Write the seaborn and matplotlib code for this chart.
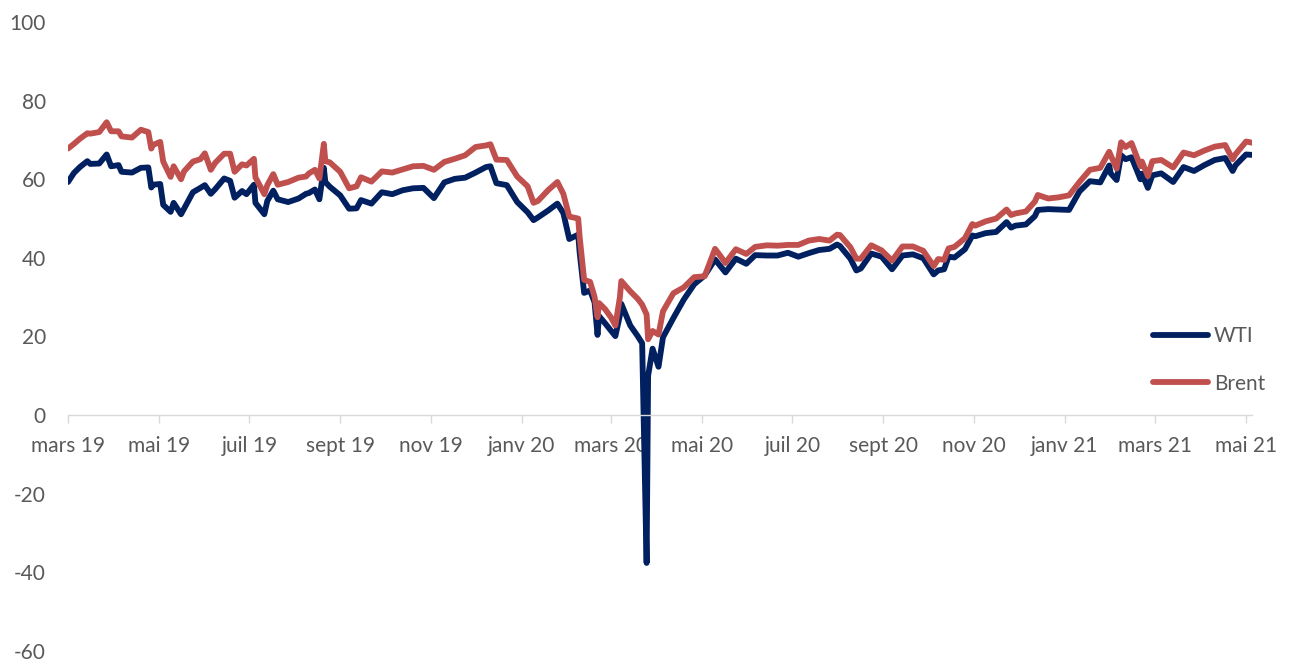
import matplotlib

matplotlib.use("Agg")

import matplotlib.pyplot as plt
from matplotlib.lines import Line2D
import pandas as pd
import seaborn as sns

# ── Data ──────────────────────────────────────────────────────────────────

DATES = [
    "2019-03-28", "2019-04-01", "2019-04-05", "2019-04-10", "2019-04-12", "2019-04-18",
    "2019-04-23", "2019-04-26", "2019-05-01", "2019-05-03", "2019-05-10", "2019-05-16",
    "2019-05-21", "2019-05-23", "2019-05-24", "2019-05-29", "2019-05-31", "2019-06-05",
    "2019-06-07", "2019-06-12", "2019-06-14", "2019-06-20", "2019-06-25", "2019-06-28",
    "2019-07-02", "2019-07-05", "2019-07-11", "2019-07-15", "2019-07-18", "2019-07-23",
    "2019-07-26", "2019-07-31", "2019-08-01", "2019-08-07", "2019-08-09", "2019-08-13",
    "2019-08-16", "2019-08-23", "2019-08-30", "2019-09-04", "2019-09-06", "2019-09-10",
    "2019-09-13", "2019-09-16", "2019-09-17", "2019-09-20", "2019-09-27", "2019-10-03",
    "2019-10-08", "2019-10-11", "2019-10-18", "2019-10-25", "2019-11-01", "2019-11-08",
    "2019-11-15", "2019-11-22", "2019-11-29", "2019-12-06", "2019-12-13", "2019-12-20",
    "2019-12-27", "2020-01-03", "2020-01-06", "2020-01-10", "2020-01-17", "2020-01-24",
    "2020-01-31", "2020-02-04", "2020-02-07", "2020-02-14", "2020-02-20", "2020-02-24",
    "2020-02-28", "2020-03-05", "2020-03-06", "2020-03-09", "2020-03-13", "2020-03-16",
    "2020-03-18", "2020-03-19", "2020-03-23", "2020-03-27", "2020-03-30", "2020-04-02",
    "2020-04-03", "2020-04-09", "2020-04-14", "2020-04-17", "2020-04-20", "2020-04-21",
    "2020-04-24", "2020-04-28", "2020-05-01", "2020-05-08", "2020-05-15", "2020-05-22",
    "2020-05-29", "2020-06-05", "2020-06-08", "2020-06-12", "2020-06-19", "2020-06-26",
    "2020-07-02", "2020-07-10", "2020-07-17", "2020-07-24", "2020-07-31", "2020-08-07",
    "2020-08-14", "2020-08-21", "2020-08-26", "2020-08-28", "2020-09-04", "2020-09-08",
    "2020-09-11", "2020-09-18", "2020-09-25", "2020-10-02", "2020-10-09", "2020-10-16",
    "2020-10-23", "2020-10-30", "2020-11-02", "2020-11-06", "2020-11-09", "2020-11-13",
    "2020-11-20", "2020-11-25", "2020-11-27", "2020-12-04", "2020-12-11", "2020-12-18",
    "2020-12-21", "2020-12-24", "2020-12-31", "2021-01-06", "2021-01-08", "2021-01-15",
    "2021-01-22", "2021-01-29", "2021-02-05", "2021-02-12", "2021-02-19", "2021-02-25",
    "2021-02-26", "2021-03-02", "2021-03-05", "2021-03-08", "2021-03-12", "2021-03-18",
    "2021-03-19", "2021-03-23", "2021-03-26", "2021-04-01", "2021-04-09", "2021-04-16",
    "2021-04-23", "2021-04-30", "2021-05-07", "2021-05-14", "2021-05-19", "2021-05-21",
    "2021-05-28", "2021-06-01",
]

WTI = [
    59.3, 61.6, 63.1, 64.6, 63.9, 64.0,
    66.3, 63.3, 63.6, 61.9, 61.7, 62.9,
    63.0, 57.9, 58.6, 58.8, 53.5, 51.7,
    54.0, 51.1, 52.5, 56.7, 57.8, 58.5,
    56.3, 57.5, 60.2, 59.6, 55.3, 57.0,
    56.2, 58.6, 54.0, 51.1, 54.5, 57.1,
    54.9, 54.2, 55.1, 56.3, 56.5, 57.4,
    54.9, 62.9, 59.3, 58.1, 55.9, 52.5,
    52.6, 54.7, 53.8, 56.7, 56.2, 57.2,
    57.7, 57.8, 55.2, 59.2, 60.1, 60.4,
    61.7, 63.1, 63.3, 59.0, 58.5, 54.2,
    51.6, 49.6, 50.3, 52.1, 53.8, 51.4,
    44.8, 45.9, 41.3, 31.1, 31.7, 28.7,
    20.4, 25.2, 23.4, 21.5, 20.1, 25.3,
    28.3, 22.8, 20.1, 18.3, -37.6, 10.0,
    16.9, 12.3, 19.8, 24.7, 29.4, 33.3,
    35.5, 39.6, 38.2, 36.3, 39.8, 38.5,
    40.7, 40.6, 40.6, 41.3, 40.3, 41.2,
    42.0, 42.3, 43.4, 43.0, 39.8, 36.8,
    37.3, 41.1, 40.3, 37.1, 40.6, 40.9,
    39.9, 35.8, 36.8, 37.1, 40.3, 40.1,
    42.2, 45.7, 45.5, 46.3, 46.6, 49.1,
    47.7, 48.2, 48.5, 50.6, 52.2, 52.4,
    52.3, 52.2, 56.9, 59.5, 59.2, 63.5,
    61.5, 59.8, 66.1, 65.1, 65.6, 60.0,
    61.4, 57.8, 61.0, 61.5, 59.3, 63.1,
    62.1, 63.6, 64.9, 65.4, 62.1, 63.6,
    66.3, 66.2,
]

BRENT = [
    67.8, 69.0, 70.3, 71.7, 71.6, 72.0,
    74.5, 72.2, 72.2, 70.9, 70.6, 72.6,
    72.0, 67.8, 68.7, 69.5, 64.5, 60.6,
    63.3, 60.0, 62.0, 64.5, 65.1, 66.6,
    62.4, 64.2, 66.5, 66.5, 61.9, 63.8,
    63.5, 65.2, 60.5, 56.2, 58.5, 61.3,
    58.6, 59.3, 60.4, 60.7, 61.5, 62.4,
    60.2, 69.0, 64.6, 64.3, 61.9, 57.7,
    58.2, 60.5, 59.4, 62.0, 61.7, 62.5,
    63.3, 63.4, 62.4, 64.4, 65.2, 66.1,
    68.2, 68.6, 68.9, 65.0, 64.9, 60.7,
    58.2, 54.0, 54.5, 57.3, 59.3, 56.3,
    50.5, 50.0, 45.3, 34.4, 33.9, 30.1,
    24.9, 28.5, 27.0, 24.9, 22.8, 29.9,
    34.1, 31.5, 29.6, 28.1, 25.6, 19.3,
    21.4, 20.5, 26.4, 31.0, 32.5, 35.1,
    35.3, 42.3, 40.8, 38.7, 42.2, 41.0,
    42.8, 43.2, 43.1, 43.3, 43.3, 44.4,
    44.8, 44.4, 45.9, 45.8, 42.7, 39.8,
    39.8, 43.2, 41.9, 39.3, 42.9, 42.9,
    41.8, 37.9, 39.7, 39.5, 42.4, 42.8,
    45.0, 48.6, 48.2, 49.3, 50.0, 52.3,
    50.9, 51.3, 51.8, 54.3, 56.0, 55.1,
    55.4, 55.9, 59.3, 62.4, 62.9, 67.0,
    66.1, 62.7, 69.4, 68.2, 69.2, 63.3,
    64.5, 60.8, 64.6, 64.9, 63.0, 66.8,
    66.1, 67.3, 68.3, 68.7, 65.1, 66.4,
    69.6, 69.3,
]

SERIES = ["WTI", "Brent"]
COLORS = {"WTI": "#002060", "Brent": "#C0504D"}

TICK_DATES = [
    "2019-03-28", "2019-05-28", "2019-07-28", "2019-09-27", "2019-11-27",
    "2020-01-27", "2020-03-27", "2020-05-27", "2020-07-27", "2020-09-26",
    "2020-11-26", "2021-01-26", "2021-03-28", "2021-05-28",
]
TICK_LABELS = [
    "mars 19", "mai 19", "juil 19", "sept 19", "nov 19", "janv 20", "mars 20",
    "mai 20", "juil 20", "sept 20", "nov 20", "janv 21", "mars 21", "mai 21",
]
Y_TICKS = [-60, -40, -20, 0, 20, 40, 60, 80, 100]

TEXT_COLOR = "#595959"
AXIS_COLOR = "#D9D9D9"
FONT_SIZE = 15

# ── Plot ──────────────────────────────────────────────────────────────────

sns.set_theme(style="white")
plt.rcParams["font.family"] = ["Lato", "DejaVu Sans"]

dates = pd.to_datetime(DATES)
df = pd.concat(
    [
        pd.DataFrame({"date": dates, "price": WTI, "series": "WTI"}),
        pd.DataFrame({"date": dates, "price": BRENT, "series": "Brent"}),
    ],
    ignore_index=True,
)

fig = plt.figure(figsize=(12.93, 6.61), dpi=100)
ax = fig.add_axes([68 / 1293, 10 / 661, 1184 / 1293, 629 / 661])

sns.lineplot(
    data=df,
    x="date",
    y="price",
    hue="series",
    hue_order=SERIES,
    palette=COLORS,
    linewidth=4.2,
    solid_joinstyle="round",
    solid_capstyle="round",
    legend=False,
    ax=ax,
)

ax.set_xlim(pd.Timestamp("2019-03-28"), pd.Timestamp("2021-06-01"))
ax.set_ylim(-60, 100)
ax.set_xlabel("")
ax.set_ylabel("")

ax.set_yticks(Y_TICKS)
ax.set_yticklabels([str(v) for v in Y_TICKS])
ax.set_xticks(pd.to_datetime(TICK_DATES))
ax.set_xticklabels(TICK_LABELS)

ax.tick_params(axis="y", length=0, pad=16, labelsize=FONT_SIZE, labelcolor=TEXT_COLOR)
ax.tick_params(axis="x", direction="out", length=6, width=1, color=AXIS_COLOR,
               pad=9, labelsize=FONT_SIZE, labelcolor=TEXT_COLOR, bottom=True)

for side in ["top", "right", "left"]:
    ax.spines[side].set_visible(False)
ax.spines["bottom"].set_position(("data", 0))
ax.spines["bottom"].set_color(AXIS_COLOR)
ax.spines["bottom"].set_linewidth(1)
ax.grid(False)

handles = [
    Line2D([0], [0], color=COLORS[s], linewidth=4.2, solid_capstyle="round")
    for s in SERIES
]
leg = ax.legend(
    handles,
    SERIES,
    loc="center left",
    bbox_to_anchor=(1145 / 1293, 1 - 360 / 661),
    bbox_transform=fig.transFigure,
    frameon=False,
    fontsize=FONT_SIZE,
    handlelength=2.6,
    handletextpad=0.3,
    labelspacing=1.3,
    borderaxespad=0,
)
for t in leg.get_texts():
    t.set_color(TEXT_COLOR)

fig.savefig("out.png", dpi=100)
plt.close(fig)
